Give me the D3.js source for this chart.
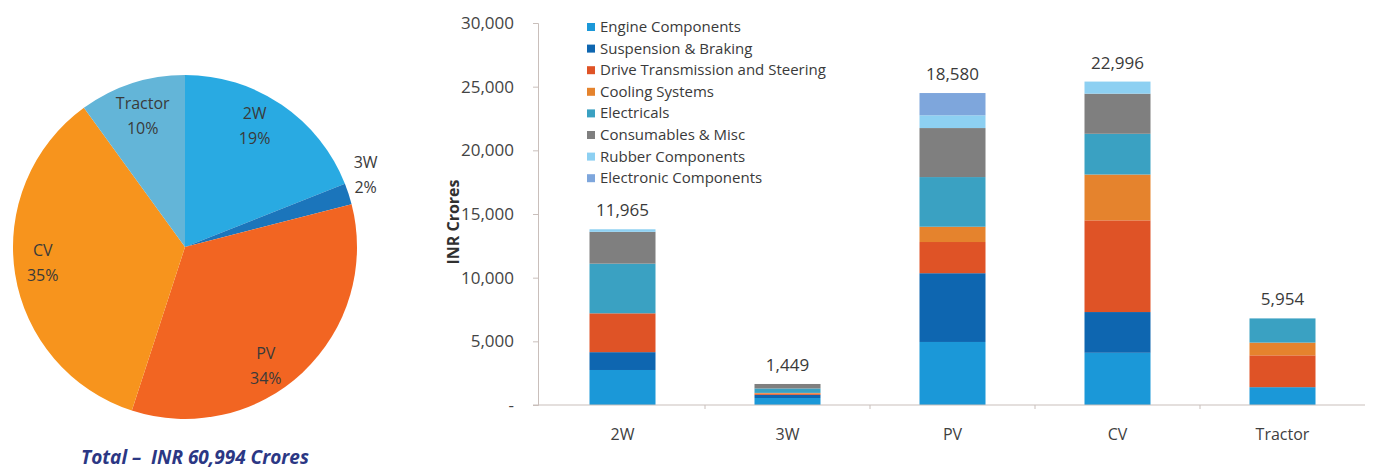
<!DOCTYPE html>
<html>
<head>
<meta charset="utf-8">
<script src="https://cdn.jsdelivr.net/npm/d3@7"></script>
<style>
  body { margin: 0; background: #fff; }
  svg { font-family: "Open Sans", Lato, sans-serif; }
</style>
</head>
<body>
<div id="chart"></div>
<script>
// segment names, stacked bottom to top
const components = ["Engine Components", "Suspension & Braking", "Drive Transmission and Steering",
  "Cooling Systems", "Electricals", "Consumables & Misc", "Rubber Components", "Electronic Components"];
const componentColors = ["#1b98d8", "#0e66b0", "#df5326", "#e5832d", "#3aa1c2", "#7f7f7f", "#8dd0f2", "#7ea6dc"];

const categories = ["2W", "3W", "PV", "CV", "Tractor"];
const totalLabels = [11965, 1449, 18580, 22996, 5954];

// per-component values (INR crores)
const engine      = [2750, 550, 4950, 4100, 1400];
const suspension  = [1400, 250, 5400, 3200, 0];
const drive       = [3050, 100, 2450, 7200, 2500];
const cooling     = [0, 50, 1200, 3600, 1000];
const electricals = [3900, 350, 3900, 3200, 1900];
const consumables = [2500, 350, 3850, 3150, 0];
const rubber      = [200, 0, 1000, 950, 0];
const electronic  = [0, 0, 1750, 0, 0];

const yTicks = [0, 5000, 10000, 15000, 20000, 25000, 30000];

// pie
const pieLabels = ["2W", "3W", "PV", "CV", "Tractor"];
const pieShares = [19, 2, 34, 35, 10];
const pieColors = ["#29aae2", "#1b75bb", "#f26522", "#f7941d", "#63b5d8"];

const width = 1375, height = 471;
const svg = d3.select("#chart").append("svg")
  .attr("width", width).attr("height", height);

// ---------- pie ----------
const pieCx = 185, pieCy = 247, pieR = 172;
const pieG = svg.append("g").attr("transform", `translate(${pieCx},${pieCy})`);
const pie = d3.pie().sort(null).value(d => d.v);
const pieData = pie(pieLabels.map((l, i) => ({ label: l, v: pieShares[i], color: pieColors[i] })));
const arc = d3.arc().innerRadius(0).outerRadius(pieR);

pieG.selectAll("path")
  .data(pieData)
  .join("path")
  .attr("d", arc)
  .attr("fill", d => d.data.color);

// label positions: 3W sits outside, the rest inside; nudged to match the original
const labelArc = d3.arc().innerRadius(pieR * 0.72).outerRadius(pieR * 0.72);
const outerArc = d3.arc().innerRadius(pieR * 1.08).outerRadius(pieR * 1.08);
const nudge = { "2W": [0, -26], "3W": [4, -22], "PV": [-4, 22], "CV": [-20, -10], "Tractor": [-4, -20] };
pieData.forEach(d => {
  let [lx, ly] = d.data.label === "3W" ? outerArc.centroid(d) : labelArc.centroid(d);
  lx += nudge[d.data.label][0];
  ly += nudge[d.data.label][1];
  const t = pieG.append("text")
    .attr("text-anchor", "middle")
    .attr("fill", "#3a3a3a")
    .attr("font-size", 16);
  t.append("tspan").attr("x", lx).attr("y", ly).text(d.data.label);
  t.append("tspan").attr("x", lx).attr("y", ly + 25).text(d.data.v + "%");
});

svg.append("text")
  .attr("x", 195).attr("y", 464)
  .attr("text-anchor", "middle")
  .attr("font-size", 19)
  .attr("font-weight", "bold")
  .attr("font-style", "italic")
  .attr("fill", "#2b3784")
  .attr("xml:space", "preserve")
  .text("Total \u2013  INR 60,994 Crores");

// ---------- stacked bars ----------
const rows = categories.map((c, i) => ({
  category: c,
  total: totalLabels[i],
  "Engine Components": engine[i],
  "Suspension & Braking": suspension[i],
  "Drive Transmission and Steering": drive[i],
  "Cooling Systems": cooling[i],
  "Electricals": electricals[i],
  "Consumables & Misc": consumables[i],
  "Rubber Components": rubber[i],
  "Electronic Components": electronic[i]
}));

const x = d3.scaleBand()
  .domain(categories)
  .range([540, 1365])
  .paddingInner(0.6)
  .paddingOuter(0.3);

const y = d3.scaleLinear()
  .domain([0, 30000])
  .range([405, 23]);

const color = d3.scaleOrdinal().domain(components).range(componentColors);
const stacked = d3.stack().keys(components)(rows);

svg.append("g")
  .selectAll("g")
  .data(stacked)
  .join("g")
  .attr("fill", d => color(d.key))
  .selectAll("rect")
  .data(d => d)
  .join("rect")
  .attr("x", d => x(d.data.category))
  .attr("y", d => y(d[1]))
  .attr("width", x.bandwidth())
  .attr("height", d => y(d[0]) - y(d[1]));

// total labels above the bars
const topLayer = stacked[stacked.length - 1];
svg.append("g")
  .selectAll("text")
  .data(topLayer)
  .join("text")
  .attr("x", d => x(d.data.category) + x.bandwidth() / 2)
  .attr("y", d => y(d[1]) - 13)
  .attr("text-anchor", "middle")
  .attr("font-size", 17)
  .attr("fill", "#3a3a3a")
  .text(d => d3.format(",")(d.data.total));

// y axis
const yAxis = svg.append("g")
  .attr("transform", "translate(538,0)")
  .call(d3.axisLeft(y).tickValues(yTicks).tickSize(5).tickPadding(19)
    .tickFormat(d => d === 0 ? "-" : d3.format(",")(d)));
yAxis.select(".domain").attr("stroke", "#c9bfbb");
yAxis.selectAll(".tick line").attr("stroke", "#c9bfbb");
yAxis.selectAll(".tick text")
  .attr("font-size", 17)
  .attr("font-family", "'Open Sans', sans-serif")
  .attr("fill", "#444");

svg.append("text")
  .attr("transform", "translate(459,222) rotate(-90)")
  .attr("text-anchor", "middle")
  .attr("font-size", 16)
  .attr("font-weight", "bold")
  .attr("fill", "#303030")
  .text("INR Crores");

// x axis
const xAxis = svg.append("g")
  .attr("transform", "translate(0,405)")
  .call(d3.axisBottom(x).tickSize(0).tickPadding(24));
xAxis.select(".domain").attr("stroke", "#c9bfbb").attr("d", "M533,0H1365");
xAxis.selectAll(".tick text")
  .attr("font-size", 16)
  .attr("font-family", "'Open Sans', sans-serif")
  .attr("fill", "#404040");
// small category separators
svg.append("g")
  .selectAll("line")
  .data(categories.slice(1))
  .join("line")
  .attr("x1", d => x(d) - x.step() * 0.3)
  .attr("x2", d => x(d) - x.step() * 0.3)
  .attr("y1", 405).attr("y2", 409)
  .attr("stroke", "#c9bfbb");

// legend
const legend = svg.append("g").attr("transform", "translate(587,27)");
const item = legend.selectAll("g")
  .data(components)
  .join("g")
  .attr("transform", (d, i) => `translate(0,${i * 21.6})`);
item.append("rect")
  .attr("x", 0).attr("y", -4)
  .attr("width", 8).attr("height", 8)
  .attr("fill", d => color(d));
item.append("text")
  .attr("x", 13).attr("y", 5)
  .attr("font-size", 15)
  .attr("fill", "#3a3a3a")
  .text(d => d);
</script>
</body>
</html>
